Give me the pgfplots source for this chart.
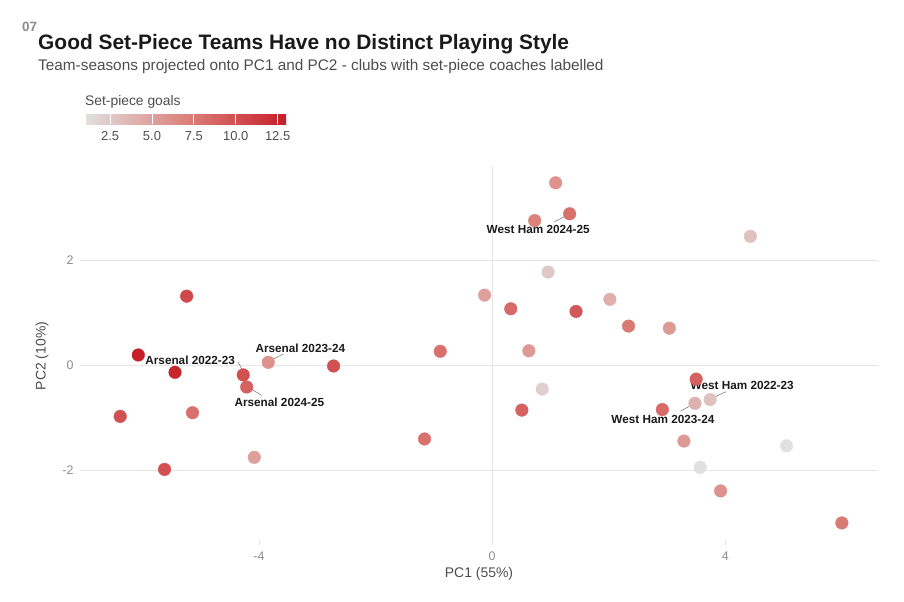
\documentclass[border=0pt]{standalone}
\usepackage{fontspec}
\setmainfont{Liberation Sans}
\usepackage{pgfplots}
\pgfplotsset{compat=1.18}
\definecolor{gridc}{HTML}{E6E6E6}
\definecolor{tickc}{HTML}{8C8C8C}
\definecolor{axtc}{HTML}{4D4D4D}
\definecolor{titc}{HTML}{1A1A1A}
\definecolor{subc}{HTML}{4D4D4D}
\definecolor{segc}{HTML}{707070}
\pgfplotstableread{
x y v
1.09 3.48 6
1.33 2.89 8
0.73 2.76 7
4.43 2.46 3
0.96 1.78 2.5
-0.13 1.34 5
2.02 1.26 4
0.32 1.08 8.5
1.44 1.03 9.5
2.34 0.75 7.5
3.04 0.71 5.5
-0.89 0.27 8
0.63 0.28 5.5
-5.24 1.32 10.5
-6.07 0.20 13
-5.44 -0.13 12.5
-4.27 -0.18 10
-3.84 0.06 6
-2.72 -0.01 10
-4.21 -0.41 9
-6.38 -0.97 10
-5.14 -0.90 8
-5.62 -1.98 10
-4.08 -1.75 5
-1.16 -1.40 8
0.86 -0.45 2
0.51 -0.85 9
3.50 -0.26 9
2.92 -0.84 8.5
3.48 -0.72 4
3.74 -0.65 3
3.29 -1.44 5.5
5.05 -1.53 1
3.57 -1.94 1
3.92 -2.39 6
6.00 -3.00 7.5
}\pts
\begin{document}
\begin{tikzpicture}
\path[use as bounding box] (0,0) rectangle (904bp,602bp);
\node[anchor=base west, inner sep=0, font=\fontsize{13.5}{15}\selectfont\bfseries, text=tickc] at (22bp,570bp) {07};
\node[anchor=base west, inner sep=0, font=\fontsize{21}{24}\selectfont\bfseries, text=titc] at (38bp,552bp) {Good Set-Piece Teams Have no Distinct Playing Style};
\node[anchor=base west, inner sep=0, font=\fontsize{15.4}{18}\selectfont, text=subc] at (38bp,531bp) {Team-seasons projected onto PC1 and PC2 - clubs with set-piece coaches labelled};
\node[anchor=base west, inner sep=0, font=\fontsize{13.9}{16}\selectfont, text=subc] at (85bp,496bp) {Set-piece goals};
\begin{axis}[
  at={(80bp,57bp)}, anchor=south west,
  scale only axis, width=798bp, height=379bp,
  xmin=-7.07, xmax=6.62, ymin=-3.42, ymax=3.80,
  axis line style={draw=none},
  xtick={-4,0,4}, xticklabels={-4,0,4},
  ytick={-2,0,2}, yticklabels={-2,0,2},
  ymajorgrids, grid style={gridc, line width=0.8bp},
  xtick pos=bottom, xtick align=inside, major tick length=5bp,
  xtick style={gridc, line width=0.8bp},
  ytick style={draw=none},
  tick label style={font=\fontsize{12.5}{14}\selectfont, text=tickc, text height=9bp, text depth=0pt},
  xticklabel style={yshift=-3bp},
  yticklabel style={xshift=-3bp},
  colormap={sp}{rgb255=(224,224,224) rgb255=(220,130,124) rgb255=(198,30,40)},
  point meta min=1, point meta max=13,
  colorbar horizontal,
  colorbar style={
    at={(parent axis.north west)}, anchor=south west,
    xshift=5bp, yshift=50bp,
    width=201bp, height=10bp,
    scale only axis,
    axis on top,
    xtick={2.5,5,7.5,10,12.5},
    xticklabels={2.5,5.0,7.5,10.0,12.5},
    xtick style={draw=none},
    ytick=\empty,
    xmajorgrids, grid style={white, line width=0.8bp},
    axis line style={draw=none},
    xticklabel style={font=\fontsize{13}{15}\selectfont, text=axtc, text height=9.5bp, text depth=0pt, yshift=-3bp},
  },
]
\addplot[gridc, line width=0.8bp, forget plot] coordinates {(0,-3.42) (0,3.80)};
\addplot[scatter, only marks, mark=*, mark size=6.3bp,
  scatter src=explicit,
  scatter/use mapped color={draw=mapped color, fill=mapped color}]
  table[x=x, y=y, meta=v] {\pts};
\addplot[segc, line width=0.5bp] coordinates {(1.33,2.89) (1.06,2.73)};
\addplot[segc, line width=0.5bp] coordinates {(-4.36,0.07) (-4.28,-0.10)};
\addplot[segc, line width=0.5bp] coordinates {(-3.79,0.10) (-3.58,0.22)};
\addplot[segc, line width=0.5bp] coordinates {(-4.16,-0.43) (-3.95,-0.57)};
\addplot[segc, line width=0.5bp] coordinates {(3.74,-0.64) (4.01,-0.50)};
\addplot[segc, line width=0.5bp] coordinates {(3.23,-0.87) (3.45,-0.74)};
\begin{scope}[every node/.style={font=\fontsize{11.8}{14}\selectfont\bfseries, text=titc, inner sep=0}]
\node at (axis cs:0.79,2.60) {West Ham 2024-25};
\node at (axis cs:-5.18,0.10) {Arsenal 2022-23};
\node at (axis cs:-3.29,0.33) {Arsenal 2023-24};
\node at (axis cs:-3.65,-0.70) {Arsenal 2024-25};
\node at (axis cs:4.29,-0.375) {West Ham 2022-23};
\node at (axis cs:2.93,-1.02) {West Ham 2023-24};
\end{scope}
\end{axis}
\node[font=\fontsize{14}{16}\selectfont, text=axtc] at (479bp,28bp) {PC1 (55\%)};
\node[rotate=90, font=\fontsize{14}{16}\selectfont, text=axtc] at (42bp,246bp) {PC2 (10\%)};
\end{tikzpicture}
\end{document}
